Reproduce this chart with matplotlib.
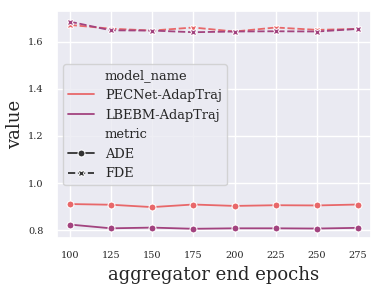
import matplotlib
matplotlib.use("Agg")
import matplotlib.pyplot as plt
import seaborn as sns
import pandas as pd

sns.set_theme(style="darkgrid")
plt.rcParams['font.family'] = 'DejaVu Serif'

epochs = [100, 125, 150, 175, 200, 225, 250, 275]
pecnet_ade = [0.911, 0.908, 0.898, 0.909, 0.903, 0.906, 0.905, 0.909]
pecnet_fde = [1.671, 1.655, 1.647, 1.660, 1.643, 1.660, 1.650, 1.654]
lbebm_ade = [0.824, 0.808, 0.811, 0.806, 0.808, 0.808, 0.807, 0.810]
lbebm_fde = [1.685, 1.648, 1.647, 1.640, 1.643, 1.644, 1.643, 1.654]

filas = []
for nombre, metrica, valores in [("PECNet-AdapTraj", "ADE", pecnet_ade),
                                 ("PECNet-AdapTraj", "FDE", pecnet_fde),
                                 ("LBEBM-AdapTraj", "ADE", lbebm_ade),
                                 ("LBEBM-AdapTraj", "FDE", lbebm_fde)]:
    for e, v in zip(epochs, valores):
        filas.append({"aggregator end epochs": e, "value": v,
                      "model_name": nombre, "metric": metrica})
df = pd.DataFrame(filas)

fig, ax = plt.subplots(figsize=(3.82, 2.87), dpi=100)
sns.lineplot(data=df, x="aggregator end epochs", y="value",
             hue="model_name", style="metric", markers=True,
             palette=["#e8686a", "#a2437f"], markersize=5,
             linewidth=1.3, ax=ax)

ax.set_xticks(epochs)
ax.set_ylim(0.766, 1.728)
ax.set_xlim(92, 283)
ax.tick_params(labelsize=7)
ax.set_xlabel("aggregator end epochs", fontsize=13)
ax.set_ylabel("value", fontsize=13, labelpad=3)
ax.legend(loc="center left", fontsize=9.4)

plt.subplots_adjust(left=0.148, right=0.972, top=0.96, bottom=0.17)
plt.savefig("out.png", dpi=100)
plt.close()
